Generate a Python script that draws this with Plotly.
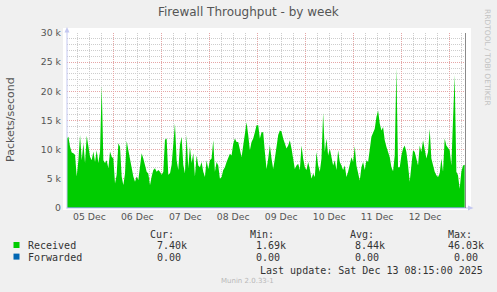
import pandas as pd
import plotly.graph_objects as go

# ---------------- data ----------------
title_text = "Firewall Throughput - by week"
y_title = "Packets/second"
start_time = "2025-12-05 00:40"
sample_step = "50min"

# Received packets/second, in thousands
received_k = [
    11.9, 12.2, 10.5, 9.5, 9.4, 9.1, 5.4, 8.2, 12.5, 8.2,
    11.1, 7.7, 12.4, 10.5, 8.8, 8.2, 9.7, 7.9, 9.9, 7.7,
    9.7, 21.0, 8.2, 7.7, 8.2, 6.8, 9.7, 8.8, 8.5, 4.2,
    5.7, 11.1, 10.5, 5.4, 3.9, 5.9, 11.5, 9.9, 8.2, 7.1,
    5.4, 4.5, 5.4, 4.8, 7.7, 9.4, 8.5, 7.4, 6.2, 5.9,
    3.9, 5.4, 6.5, 6.8, 6.2, 6.5, 6.2, 5.7, 6.2, 11.7,
    11.9, 5.7, 5.9, 7.4, 10.5, 14.5, 8.2, 6.5, 10.8, 12.2,
    7.4, 5.9, 12.5, 6.8, 10.5, 7.7, 9.4, 5.4, 9.0, 7.3,
    7.0, 7.9, 6.2, 5.3, 8.2, 6.7, 8.2, 8.5, 11.6, 6.2,
    7.9, 7.3, 5.0, 5.3, 6.5, 7.0, 7.9, 8.5, 9.3, 9.0,
    11.0, 11.9, 11.3, 11.3, 10.2, 8.7, 10.7, 13.0, 14.7, 12.5,
    9.9, 11.3, 11.9, 13.0, 14.2, 14.2, 11.9, 13.0, 13.0, 9.6,
    6.7, 8.5, 10.7, 8.5, 6.7, 8.5, 10.7, 12.5, 13.3, 13.1,
    11.9, 11.0, 10.2, 10.7, 11.6, 10.2, 8.7, 6.7, 7.3, 7.6,
    6.5, 10.7, 8.5, 7.0, 6.5, 7.9, 6.7, 5.0, 5.9, 5.3,
    9.6, 7.3, 6.2, 8.5, 16.3, 9.6, 11.9, 9.0, 10.2, 9.0,
    7.3, 8.2, 6.5, 9.9, 7.9, 7.3, 6.5, 7.3, 5.3, 6.2,
    7.3, 8.7, 7.9, 10.6, 7.3, 6.2, 4.7, 7.0, 7.9, 6.5,
    8.2, 7.9, 10.5, 12.2, 12.9, 13.6, 15.6, 16.7, 14.5, 13.3,
    13.9, 11.6, 10.5, 9.7, 8.7, 7.0, 6.3, 9.0, 24.0, 7.0,
    7.0, 9.0, 10.2, 10.7, 9.6, 7.3, 4.5, 7.3, 9.9, 9.6,
    8.5, 7.3, 10.7, 9.6, 11.6, 10.2, 8.5, 9.6, 13.6, 8.5,
    7.3, 6.2, 5.6, 5.3, 5.9, 8.5, 6.2, 11.9, 10.7, 10.2,
    9.9, 7.3, 14.2, 22.8, 6.2, 5.6, 3.3, 6.2, 7.3, 7.4,
]
forwarded = [0.0, 0.0]  # flat zero series (first / last sample)

x_range = ["2025-12-05 00:48", "2025-12-13 08:00"]
y_max = 30000
y_tickvals = [0, 5000, 10000, 15000, 20000, 25000, 30000]
y_ticktext = ["0", "5 k", "10 k", "15 k", "20 k", "25 k", "30 k"]

legend_names = ["Received", "Forwarded"]
legend_colors = ["#00CC00", "#0066B3"]
stat_headers = ["Cur:", "Min:", "Avg:", "Max:"]
stat_cur = ["7.40k", "0.00"]
stat_min = ["1.69k", "0.00"]
stat_avg = ["8.44k", "0.00"]
stat_max = ["46.03k", "0.00"]
last_update = "Last update: Sat Dec 13 08:15:00 2025"
credit_text = "RRDTOOL / TOBI OETIKER"
version_text = "Munin 2.0.33-1"

# ---------------- figure ----------------
W, H = 497, 292
L, R, T, B = 67, 465, 33, 208
PW, PH = R - L, B - T


def px(xp):
    return (xp - L) / PW


def py(yp):
    return (B - yp) / PH


times = pd.date_range(start=start_time, periods=len(received_k), freq=sample_step)
received = [v * 1000 for v in received_k]

fig = go.Figure()
fig.add_trace(go.Scatter(
    x=times, y=received, mode="lines", line=dict(width=0, color=legend_colors[0]),
    fill="tozeroy", fillcolor=legend_colors[0], name=legend_names[0],
    hoverinfo="skip", showlegend=False,
))
fig.add_trace(go.Scatter(
    x=[times[0], times[-1]], y=forwarded, mode="lines",
    line=dict(width=1, color=legend_colors[1]), name=legend_names[1],
    hoverinfo="skip", showlegend=False,
))

RED = "#E6A6A6"
GRAY = "#CDCDCD"
DASH = "1px,1px"
TXT = "#555555"
LEG = "#333333"

fig.update_layout(
    width=W, height=H, autosize=False,
    margin=dict(l=L, r=W - R, t=T, b=H - B, pad=0),
    paper_bgcolor="#F0F0F0", plot_bgcolor="#FFFFFF",
    showlegend=False,
    xaxis=dict(
        type="date", range=x_range, dtick=86400000, tick0="2025-12-05",
        tickformat="%d %b", ticklabelmode="period",
        showgrid=True, gridcolor=RED, griddash=DASH, gridwidth=1,
        minor=dict(dtick=6 * 3600000, tick0="2025-12-05", showgrid=True,
                   gridcolor=GRAY, griddash=DASH, gridwidth=1),
        showline=False, zeroline=False, ticks="", ticklabelstandoff=2,
        tickfont=dict(family="DejaVu Sans", size=9.3, color=TXT),
        fixedrange=True,
    ),
    yaxis=dict(
        range=[0, y_max], tickvals=y_tickvals, ticktext=y_ticktext,
        showgrid=True, gridcolor=RED, griddash=DASH, gridwidth=1,
        minor=dict(dtick=1000, tick0=0, showgrid=True, gridcolor=GRAY,
                   griddash=DASH, gridwidth=1),
        showline=False, zeroline=False, ticks="", ticklabelstandoff=5,
        tickfont=dict(family="DejaVu Sans", size=9.3, color=TXT),
        fixedrange=True,
    ),
)

AXIS = "#C4C8F0"
shapes = [
    # white canvas slightly larger than the data area
    dict(type="rect", xref="paper", yref="paper", x0=px(63), x1=px(471), y0=py(210), y1=py(28),
         fillcolor="#FFFFFF", line=dict(width=0), layer="below"),
    # left axis + arrow
    dict(type="line", xref="paper", yref="paper", x0=px(67), x1=px(67), y0=py(208.5), y1=py(30),
         line=dict(color=AXIS, width=1), layer="above"),
    dict(type="path", xref="paper", yref="paper",
         path=f"M {px(64.5)} {py(32.5)} L {px(69.5)} {py(32.5)} L {px(67)} {py(27)} Z",
         fillcolor=AXIS, line=dict(width=0), layer="above"),
    # bottom axis + arrow
    dict(type="line", xref="paper", yref="paper", x0=px(66.5), x1=px(469), y0=py(208), y1=py(208),
         line=dict(color=AXIS, width=1), layer="above"),
    dict(type="path", xref="paper", yref="paper",
         path=f"M {px(468)} {py(205.5)} L {px(468)} {py(210.5)} L {px(473.5)} {py(208)} Z",
         fillcolor=AXIS, line=dict(width=0), layer="above"),
    # right frame line
    dict(type="line", xref="paper", yref="paper", x0=px(465.5), x1=px(465.5), y0=py(208), y1=py(33),
         line=dict(color="#8A8A8A", width=1), layer="above"),
]
# legend colour boxes
for i, c in enumerate(legend_colors):
    yc = 245 + i * 11.6
    shapes.append(dict(type="rect", xref="paper", yref="paper",
                       x0=px(13.5), x1=px(19.5), y0=py(yc + 3), y1=py(yc - 3),
                       fillcolor=c, line=dict(width=0), layer="above"))
fig.update_layout(shapes=shapes)


def ann(text, x, y, size, color, family="DejaVu Sans Mono", xanchor="left", angle=0):
    fig.add_annotation(text=text, x=px(x), y=py(y), xref="paper", yref="paper",
                       showarrow=False, xanchor=xanchor, yanchor="middle",
                       textangle=angle, borderpad=0,
                       font=dict(family=family, size=size, color=color))


ann(title_text, 248.5, 12, 12, TXT, family="DejaVu Sans", xanchor="center")
ann(y_title, 10, 119, 11, TXT, family="DejaVu Sans", xanchor="center", angle=-90)
ann(credit_text, 488, 57, 7.5, "#C2C2C2", family="DejaVu Sans", xanchor="center", angle=90)

head_x = [149, 249, 349, 447]
for hx, htxt in zip(head_x, stat_headers):
    ann(htxt, hx, 234, 10, LEG)

row_y = [245.7, 257.3]
col_x = [[156, 255, 354, 447], [156, 255, 354, 453]]
for i, name in enumerate(legend_names):
    ann(name, 26.5, row_y[i], 10, LEG)
    vals = [stat_cur[i], stat_min[i], stat_avg[i], stat_max[i]]
    for cx, v in zip(col_x[i], vals):
        ann(v, cx, row_y[i], 10, LEG)

ann(last_update, 483.5, 270, 10, LEG, xanchor="right")
ann(version_text, 247.5, 281, 7, "#B8B8B8", family="DejaVu Sans", xanchor="center")

fig.write_html("out.html", config={"displayModeBar": False, "staticPlot": True})
